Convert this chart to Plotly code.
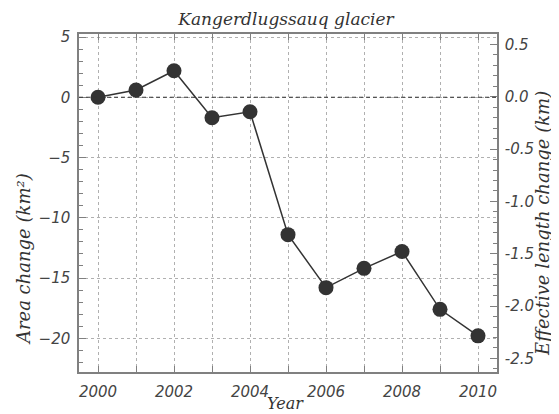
import plotly.graph_objects as go

# Kangerdlugssauq glacier area change per year
years = [2000, 2001, 2002, 2003, 2004, 2005, 2006, 2007, 2008, 2009, 2010]
area_change = [0.0, 0.6, 2.2, -1.7, -1.2, -11.4, -15.8, -14.2, -12.8, -17.6, -19.8]

x_ticks = [2000, 2002, 2004, 2006, 2008, 2010]
left_ticks = [5, 0, -5, -10, -15, -20]
right_ticks = [0.5, 0.0, -0.5, -1.0, -1.5, -2.0, -2.5]

DARK = "#333333"
AXIS = "#808080"
GRID = "#b0b0b0"
TICK_FONT = dict(family="DejaVu Sans", size=15, color="#444444", style="italic")
TITLE_FONT = dict(family="DejaVu Serif", size=18, color="#333333", style="italic")

fig = go.Figure()

fig.add_trace(go.Scatter(
    x=years, y=area_change,
    mode="lines+markers",
    line=dict(color=DARK, width=1.5),
    marker=dict(color=DARK, size=15),
    showlegend=False,
    hoverinfo="x+y",
))

# empty trace so the right-hand axis gets drawn
fig.add_trace(go.Scatter(x=[], y=[], yaxis="y2", showlegend=False))

fig.add_hline(y=0, line=dict(color="#333333", width=1.2, dash="4px,3px"), layer="above")

# axis titles as annotations so they can sit where the original has them
fig.add_annotation(text="Area change (km²)", xref="paper", yref="paper",
                   x=0, y=0.334, xshift=-56, textangle=-90, showarrow=False,
                   xanchor="center", yanchor="middle", font=TITLE_FONT)
fig.add_annotation(text="Effective length change (km)", xref="paper", yref="paper",
                   x=1, y=0.438, xshift=46, textangle=-90, showarrow=False,
                   xanchor="center", yanchor="middle", font=TITLE_FONT)
fig.add_annotation(text="Year", xref="paper", yref="paper",
                   x=0.493, y=0, yshift=-31, showarrow=False,
                   xanchor="center", yanchor="middle", font=dict(TITLE_FONT, size=16))

# the page body adds an 8px margin, so the figure is 8px smaller than the window
fig.update_layout(
    width=551, height=406,
    paper_bgcolor="white", plot_bgcolor="white",
    margin=dict(l=71, r=62, t=26, b=42, autoexpand=False),
    title=dict(
        text="Kangerdlugssauq glacier",
        font=dict(family="DejaVu Serif", size=17, color="#333333", style="italic"),
        x=0.5045, xanchor="center", y=0.972, yanchor="middle",
    ),
    xaxis=dict(
        range=[1999.5, 2010.5],
        tickvals=x_ticks,
        ticktext=[str(t) for t in x_ticks],
        tickfont=TICK_FONT,
        ticks="inside", ticklen=6, tickcolor=AXIS, ticklabelstandoff=5,
        showline=True, linecolor=AXIS, linewidth=1.5, mirror="ticks",
        showgrid=True, gridcolor=GRID, griddash="dot", gridwidth=1,
        minor=dict(dtick=1, tick0=2000, ticks="inside", ticklen=6, tickcolor=AXIS,
                   showgrid=True, gridcolor=GRID, griddash="dot"),
        zeroline=False, automargin=False,
    ),
    yaxis=dict(
        range=[-22.8, 5.25],
        tickvals=left_ticks,
        tickfont=TICK_FONT,
        ticks="inside", ticklen=7, tickcolor=AXIS, ticklabelstandoff=4,
        showline=True, linecolor=AXIS, linewidth=1.5,
        showgrid=True, gridcolor=GRID, griddash="dot", gridwidth=1,
        minor=dict(dtick=1, ticks="inside", ticklen=4, tickcolor=AXIS, showgrid=False),
        zeroline=False, automargin=False,
    ),
    yaxis2=dict(
        overlaying="y", side="right", anchor="x",
        range=[-2.63, 0.60],
        tickvals=right_ticks,
        ticktext=[f"{t:.1f}" for t in right_ticks],
        tickfont=TICK_FONT,
        ticks="inside", ticklen=7, tickcolor=AXIS, ticklabelstandoff=3,
        showline=True, linecolor=AXIS, linewidth=1.5,
        showgrid=False,
        minor=dict(dtick=0.1, ticks="inside", ticklen=4, tickcolor=AXIS, showgrid=False),
        zeroline=False, automargin=False,
    ),
)

fig.write_html("out.html")
